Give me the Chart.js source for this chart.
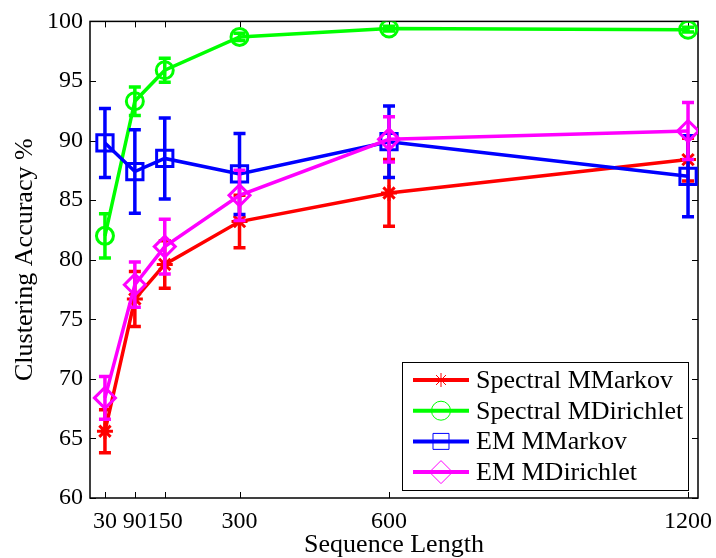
<!DOCTYPE html>
<html lang="en">
<head>
    <meta charset="UTF-8">
    <title>Clustering Accuracy vs Sequence Length</title>
    <script src="https://cdn.jsdelivr.net/npm/chart.js"></script>
    <style>
        html, body { margin: 0; padding: 0; background: #fff; }
        #wrap { width: 716px; height: 558px; }
    </style>
</head>
<body>
    <div id="wrap"><canvas id="accChart" width="716" height="558"></canvas></div>

    <script>
        // Sequence lengths and mean accuracy (%) with +/- error for each method
        const lengths = [30, 90, 150, 300, 600, 1200];
        const xTickValues = [30, 90, 150, 300, 600, 1200];

        const spectralMarkov = [65.6, 76.7, 79.6, 83.2, 85.6, 88.4];
        const spectralMarkovErr = [1.8, 2.3, 2.0, 2.2, 2.8, 1.8];

        const spectralDirichlet = [82.0, 93.3, 95.9, 98.7, 99.4, 99.3];
        const spectralDirichletErr = [1.85, 1.2, 1.0, 0.3, 0.2, 0.2];

        const emMarkov = [89.8, 87.4, 88.5, 87.2, 89.9, 87.0];
        const emMarkovErr = [2.9, 3.5, 3.4, 3.4, 3.0, 3.4];

        const emDirichlet = [68.4, 77.9, 81.1, 85.4, 90.1, 90.8];
        const emDirichletErr = [1.8, 1.9, 2.3, 2.1, 1.9, 2.4];

        const FONT = '"Liberation Serif", "Times New Roman", serif';

        function toPoints(values) {
            return values.map((v, i) => ({ x: lengths[i], y: v }));
        }

        function makeSeries(label, values, errors, color, style, radius, order) {
            return {
                label: label,
                data: toPoints(values),
                errors: errors,
                borderColor: color,
                borderWidth: 3.5,
                pointStyle: style,
                pointRadius: radius,
                pointHoverRadius: radius,
                pointBorderWidth: 3,
                pointBorderColor: color,
                pointBackgroundColor: 'rgba(0,0,0,0)',
                tension: 0,
                fill: false,
                order: order
            };
        }

        // Vertical error bars with small caps, drawn under each line
        const errorBars = {
            id: 'errorBars',
            beforeDatasetDraw(chart, args) {
                const ds = chart.data.datasets[args.index];
                if (!ds.errors) return;
                const xs = chart.scales.x, ys = chart.scales.y;
                const ctx = chart.ctx;
                ctx.save();
                ctx.strokeStyle = ds.borderColor;
                ctx.lineWidth = 3.5;
                ctx.lineCap = 'butt';
                ds.data.forEach((p, i) => {
                    const e = ds.errors[i];
                    const px = xs.getPixelForValue(p.x);
                    const top = ys.getPixelForValue(p.y + e);
                    const bot = ys.getPixelForValue(p.y - e);
                    ctx.beginPath();
                    ctx.moveTo(px, top); ctx.lineTo(px, bot);
                    ctx.moveTo(px - 6, top); ctx.lineTo(px + 6, top);
                    ctx.moveTo(px - 6, bot); ctx.lineTo(px + 6, bot);
                    ctx.stroke();
                });
                ctx.restore();
            }
        };

        // Box around the plot with inward tick marks on all four sides
        const boxFrame = {
            id: 'boxFrame',
            beforeDatasetsDraw(chart) {
                const { ctx, chartArea: a, scales } = chart;
                const len = 6;
                ctx.save();
                ctx.strokeStyle = '#000';
                ctx.lineWidth = 1.5;
                ctx.strokeRect(a.left, a.top, a.right - a.left, a.bottom - a.top);
                ctx.lineWidth = 1;
                ctx.beginPath();
                scales.x.ticks.forEach(t => {
                    const px = Math.round(scales.x.getPixelForValue(t.value)) + 0.5;
                    ctx.moveTo(px, a.bottom); ctx.lineTo(px, a.bottom - len);
                    ctx.moveTo(px, a.top); ctx.lineTo(px, a.top + len);
                });
                scales.y.ticks.forEach(t => {
                    const py = Math.round(scales.y.getPixelForValue(t.value)) + 0.5;
                    ctx.moveTo(a.left, py); ctx.lineTo(a.left + len, py);
                    ctx.moveTo(a.right, py); ctx.lineTo(a.right - len, py);
                });
                ctx.stroke();
                ctx.restore();
            }
        };

        function drawMarker(ctx, style, x, y, r) {
            ctx.beginPath();
            if (style === 'circle') {
                ctx.arc(x, y, r, 0, Math.PI * 2);
            } else if (style === 'rect') {
                const s = r * Math.SQRT1_2;
                ctx.rect(x - s, y - s, 2 * s, 2 * s);
            } else if (style === 'rectRot') {
                ctx.moveTo(x - r, y); ctx.lineTo(x, y - r);
                ctx.lineTo(x + r, y); ctx.lineTo(x, y + r);
                ctx.closePath();
            } else if (style === 'star') {
                for (let k = 0; k < 4; k++) {
                    const ang = k * Math.PI / 4;
                    const dx = Math.sin(ang) * r, dy = Math.cos(ang) * r;
                    ctx.moveTo(x - dx, y - dy); ctx.lineTo(x + dx, y + dy);
                }
            }
            ctx.stroke();
        }

        const legendMarkerSize = { star: 7, circle: 9.5, rect: 11.3, rectRot: 11.5 };

        // Boxed legend in the lower right: line sample, marker, then label
        const boxLegend = {
            id: 'boxLegend',
            afterDraw(chart) {
                const { ctx, chartArea: a } = chart;
                const w = 286, h = 128;
                const left = a.right - 10 - w, top = a.bottom - 8 - h;
                ctx.save();
                ctx.fillStyle = '#fff';
                ctx.fillRect(left, top, w, h);
                ctx.strokeStyle = '#000';
                ctx.lineWidth = 1;
                ctx.strokeRect(left + 0.5, top + 0.5, w, h);
                ctx.font = '26px ' + FONT;
                ctx.textBaseline = 'middle';
                chart.data.datasets.forEach((ds, i) => {
                    const y = top + 18 + i * 30.7;
                    ctx.strokeStyle = ds.borderColor;
                    ctx.lineWidth = 4;
                    ctx.beginPath();
                    ctx.moveTo(left + 11, y); ctx.lineTo(left + 67, y);
                    ctx.stroke();
                    ctx.lineWidth = 1;
                    drawMarker(ctx, ds.pointStyle, left + 39, y, legendMarkerSize[ds.pointStyle]);
                    ctx.fillStyle = '#000';
                    ctx.fillText(ds.label, left + 74, y + 1);
                });
                ctx.restore();
            }
        };

        function createChart() {
            const ctx = document.getElementById('accChart').getContext('2d');
            new Chart(ctx, {
                type: 'line',
                data: {
                    datasets: [
                        makeSeries('Spectral MMarkov', spectralMarkov, spectralMarkovErr, '#ff0000', 'star', 8, 4),
                        makeSeries('Spectral MDirichlet', spectralDirichlet, spectralDirichletErr, '#00ff00', 'circle', 8.5, 3),
                        makeSeries('EM MMarkov', emMarkov, emMarkovErr, '#0000ff', 'rect', 11.5, 2),
                        makeSeries('EM MDirichlet', emDirichlet, emDirichletErr, '#ff00ff', 'rectRot', 10.5, 1)
                    ]
                },
                options: {
                    responsive: false,
                    animation: false,
                    events: [],
                    layout: { padding: { top: 19, right: 18, left: 0, bottom: 0 } },
                    plugins: {
                        legend: { display: false },
                        tooltip: { enabled: false }
                    },
                    scales: {
                        x: {
                            type: 'linear',
                            min: 0,
                            max: 1220,
                            afterBuildTicks: scale => {
                                scale.ticks = xTickValues.map(v => ({ value: v }));
                            },
                            afterFit: scale => {
                                scale.height = 60;
                                scale.paddingLeft = 0;
                                scale.paddingRight = 0;
                            },
                            grid: { display: false, drawTicks: false },
                            border: { display: false },
                            ticks: {
                                padding: 9,
                                autoSkip: false,
                                maxRotation: 0,
                                color: '#000',
                                font: { family: FONT, size: 24 },
                                callback: value => String(value)
                            },
                            title: {
                                display: true,
                                text: 'Sequence Length',
                                color: '#000',
                                font: { family: FONT, size: 26, lineHeight: 1 },
                                padding: { top: 0, bottom: 0 }
                            }
                        },
                        y: {
                            min: 60,
                            max: 100,
                            afterFit: scale => { scale.width = 90; },
                            grid: { display: false, drawTicks: false },
                            border: { display: false },
                            ticks: {
                                stepSize: 5,
                                padding: 7,
                                color: '#000',
                                font: { family: FONT, size: 24 }
                            },
                            title: {
                                display: true,
                                text: 'Clustering Accuracy %',
                                color: '#000',
                                font: { family: FONT, size: 26, lineHeight: 1 },
                                padding: { top: 12, bottom: 0 }
                            }
                        }
                    }
                },
                plugins: [boxFrame, errorBars, boxLegend]
            });
        }

        window.onload = createChart;
    </script>
</body>
</html>
